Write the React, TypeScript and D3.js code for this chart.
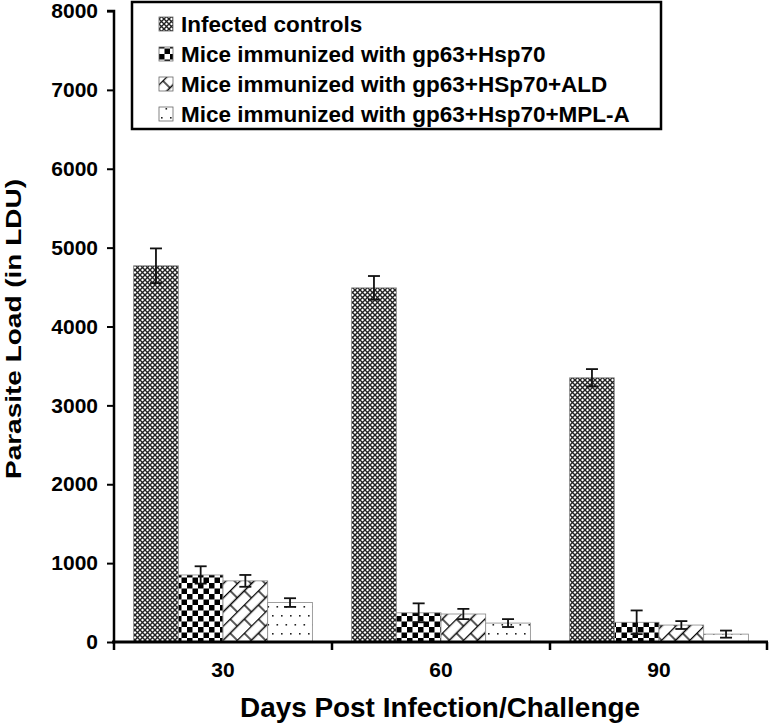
import React, { useEffect, useRef } from 'react';
import * as d3 from 'd3';

const days = ['30', '60', '90'];
const groups = [
  'Infected controls',
  'Mice immunized with gp63+Hsp70',
  'Mice immunized with gp63+HSp70+ALD',
  'Mice immunized with gp63+Hsp70+MPL-A',
];
// one array per group, values per day
const infected = [4770, 4490, 3350];
const infectedErr = [220, 150, 110];
const hsp70 = [850, 370, 250];
const hsp70Err = [110, 120, 150];
const ald = [775, 355, 215];
const aldErr = [75, 65, 50];
const mpla = [500, 240, 100];
const mplaErr = [55, 50, 45];
const yTicks = [0, 1000, 2000, 3000, 4000, 5000, 6000, 7000, 8000];

const values = [infected, hsp70, ald, mpla];
const errors = [infectedErr, hsp70Err, aldErr, mplaErr];
const patternIds = ['pat-grid', 'pat-check', 'pat-brick', 'pat-dots'];

const W = 774;
const H = 726;
const FONT = 'Liberation Sans, Arial, sans-serif';

const App = () => {
  const svgRef = useRef<SVGSVGElement>(null);

  useEffect(() => {
    const svg = d3.select(svgRef.current);
    svg.selectAll('*').remove();
    const margin = { top: 11, right: 6, bottom: 84, left: 114 };

    const defs = svg.append('defs');
    // dense grey crosshatch
    const p1 = defs.append('pattern').attr('id', 'pat-grid').attr('patternUnits', 'userSpaceOnUse')
      .attr('width', 5).attr('height', 5);
    p1.append('rect').attr('width', 5).attr('height', 5).attr('fill', 'white');
    p1.append('path').attr('d', 'M0,0 L5,5 M5,0 L0,5').attr('stroke', '#222').attr('stroke-width', 1.4);
    // checkerboard
    const p2 = defs.append('pattern').attr('id', 'pat-check').attr('patternUnits', 'userSpaceOnUse')
      .attr('width', 11).attr('height', 11);
    p2.append('rect').attr('width', 11).attr('height', 11).attr('fill', 'white');
    p2.append('rect').attr('width', 5.5).attr('height', 5.5).attr('fill', 'black');
    p2.append('rect').attr('x', 5.5).attr('y', 5.5).attr('width', 5.5).attr('height', 5.5).attr('fill', 'black');
    // diagonal brick
    const p3 = defs.append('pattern').attr('id', 'pat-brick').attr('patternUnits', 'userSpaceOnUse')
      .attr('width', 20).attr('height', 20).attr('patternTransform', 'rotate(-45)');
    p3.append('rect').attr('width', 20).attr('height', 20).attr('fill', 'white');
    p3.append('path').attr('d', 'M0,0.5 H20 M0,10.5 H20 M5,0 V10 M15,10 V20')
      .attr('stroke', 'black').attr('stroke-width', 1.3).attr('fill', 'none');
    // sparse dots
    const p4 = defs.append('pattern').attr('id', 'pat-dots').attr('patternUnits', 'userSpaceOnUse')
      .attr('width', 9).attr('height', 18);
    p4.append('rect').attr('width', 9).attr('height', 18).attr('fill', 'white');
    p4.append('rect').attr('x', 2).attr('y', 3).attr('width', 1.6).attr('height', 1.6).attr('fill', '#222');
    p4.append('rect').attr('x', 6.5).attr('y', 12).attr('width', 1.6).attr('height', 1.6).attr('fill', '#222');

    svg.append('rect').attr('width', W).attr('height', H).attr('fill', 'white');

    const x0 = d3.scaleBand().domain(days).range([margin.left, W - margin.right]).paddingInner(0.18).paddingOuter(0.09);
    const x1 = d3.scaleBand().domain(groups).range([0, x0.bandwidth()]);
    const y = d3.scaleLinear().domain([0, 8000]).range([H - margin.bottom, margin.top]);

    // bars
    groups.forEach((g, gi) => {
      const gSel = svg.append('g');
      gSel.selectAll('rect').data(days).enter().append('rect')
        .attr('x', (d) => (x0(d) as number) + (x1(g) as number))
        .attr('y', (d, i) => y(values[gi][i]))
        .attr('width', x1.bandwidth())
        .attr('height', (d, i) => y(0) - y(values[gi][i]))
        .attr('fill', `url(#${patternIds[gi]})`)
        .attr('stroke', '#888')
        .attr('stroke-width', 0.8);
      // error bars
      const eb = gSel.selectAll('g.err').data(days).enter().append('g').attr('class', 'err');
      const cx = (d: string) => (x0(d) as number) + (x1(g) as number) + x1.bandwidth() / 2;
      eb.append('line')
        .attr('x1', cx).attr('x2', cx)
        .attr('y1', (d, i) => y(values[gi][i] + errors[gi][i]))
        .attr('y2', (d, i) => y(values[gi][i] - errors[gi][i]))
        .attr('stroke', '#111').attr('stroke-width', 1.8);
      [1, -1].forEach((s) => {
        eb.append('line')
          .attr('x1', (d) => cx(d) - 6).attr('x2', (d) => cx(d) + 6)
          .attr('y1', (d, i) => y(values[gi][i] + s * errors[gi][i]))
          .attr('y2', (d, i) => y(values[gi][i] + s * errors[gi][i]))
          .attr('stroke', '#111').attr('stroke-width', 1.8);
      });
    });

    // y axis
    const yAxis = d3.axisLeft(y).tickValues(yTicks).tickSize(7).tickPadding(9).tickFormat(d3.format('d'));
    const ya = svg.append('g').attr('transform', `translate(${margin.left},0)`).call(yAxis);
    ya.select('.domain').attr('stroke-width', 2.5).attr('d', `M-7,${y(8000)} H0 V${y(0)}`);
    ya.selectAll('.tick line').attr('stroke-width', 2);
    ya.selectAll('text').attr('font-family', FONT).attr('font-weight', 'bold').attr('font-size', 21).attr('fill', 'black');

    // x axis: category labels, ticks at group boundaries
    const xAxisY = y(0);
    svg.append('line').attr('x1', margin.left - 2).attr('x2', W - margin.right)
      .attr('y1', xAxisY).attr('y2', xAxisY).attr('stroke', 'black').attr('stroke-width', 3);
    const step = x0.step();
    const bounds = [0, 1, 2, 3].map((i) => margin.left + i * step);
    svg.selectAll('line.xt').data(bounds).enter().append('line').attr('class', 'xt')
      .attr('x1', (d) => Math.min(d, W - margin.right - 1)).attr('x2', (d) => Math.min(d, W - margin.right - 1))
      .attr('y1', xAxisY).attr('y2', xAxisY + 8).attr('stroke', 'black').attr('stroke-width', 2.5);
    svg.selectAll('text.xl').data(days).enter().append('text').attr('class', 'xl')
      .attr('x', (d) => (x0(d) as number) + x0.bandwidth() / 2)
      .attr('y', xAxisY + 35)
      .attr('text-anchor', 'middle')
      .attr('font-family', FONT).attr('font-weight', 'bold').attr('font-size', 21)
      .text((d) => d);

    // axis titles
    svg.append('text').attr('x', 440).attr('y', 717).attr('text-anchor', 'middle')
      .attr('font-family', FONT).attr('font-weight', 'bold').attr('font-size', 27)
      .attr('textLength', 400).attr('lengthAdjust', 'spacingAndGlyphs')
      .text('Days Post Infection/Challenge');
    svg.append('text').attr('transform', `translate(21,329) rotate(-90)`)
      .attr('text-anchor', 'middle')
      .attr('font-family', FONT).attr('font-weight', 'bold').attr('font-size', 22)
      .attr('textLength', 300).attr('lengthAdjust', 'spacingAndGlyphs')
      .text('Parasite Load (in LDU)');

    // legend
    const lg = svg.append('g').attr('transform', 'translate(132,2)');
    lg.append('rect').attr('width', 529).attr('height', 127).attr('fill', 'white')
      .attr('stroke', 'black').attr('stroke-width', 2.5);
    groups.forEach((g, gi) => {
      const row = lg.append('g').attr('transform', `translate(27,${22 + gi * 30})`);
      row.append('rect').attr('x', 0).attr('y', -7).attr('width', 14).attr('height', 14)
        .attr('fill', `url(#${patternIds[gi]})`).attr('stroke', '#666').attr('stroke-width', 0.8);
      row.append('text').attr('x', 22).attr('y', 8)
        .attr('font-family', FONT).attr('font-weight', 'bold').attr('font-size', 22.5)
        .text(g);
    });
  }, []);

  return (
    <svg ref={svgRef} width={W} height={H} style={{ position: 'absolute', left: 0, top: 0 }}></svg>
  );
};

export default App;
